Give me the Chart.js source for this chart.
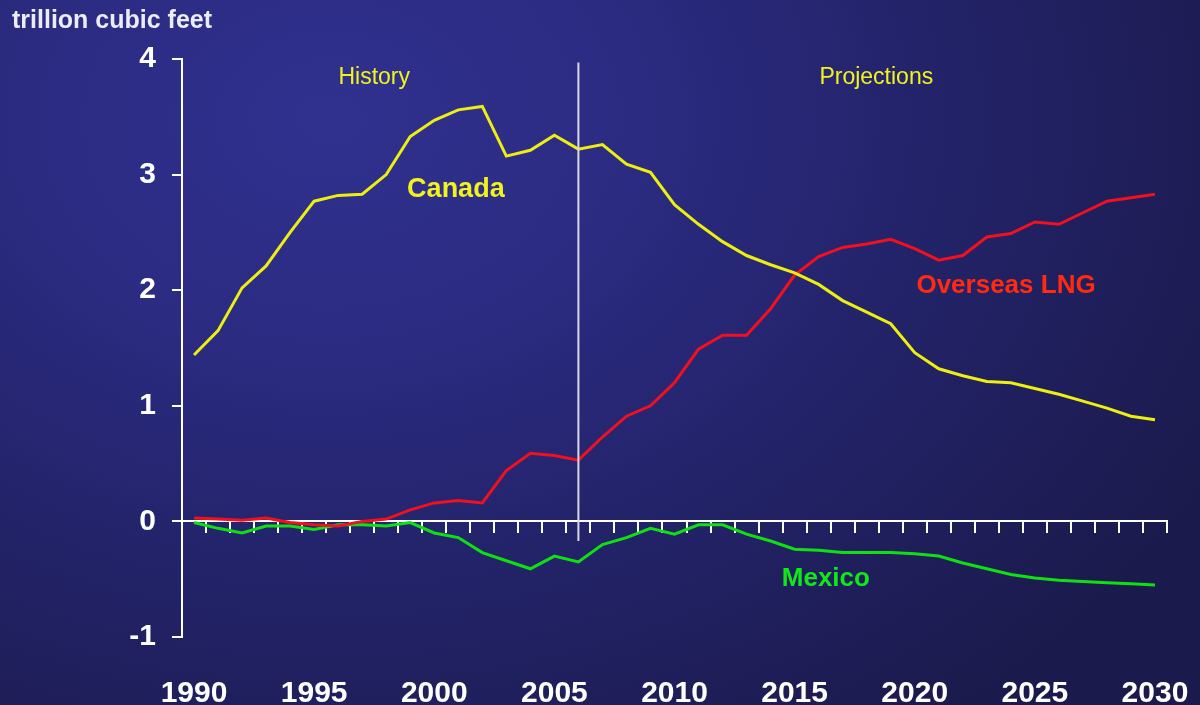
<!DOCTYPE html>
<html>
<head>
<meta charset="utf-8">
<script src="https://cdn.jsdelivr.net/npm/chart.js@4"></script>
<style>
  html, body { margin: 0; padding: 0; }
  body {
    width: 1200px; height: 705px; overflow: hidden;
    background: radial-gradient(ellipse 1000px 760px at 330px 120px, #30318f 0%, #2b2b82 30%, #23236a 60%, #1b1a4c 100%);
  }
  .wrap { position: relative; width: 1200px; height: 705px; }
</style>
</head>
<body>
<div class="wrap"><canvas id="chart" width="1200" height="705"></canvas></div>
<script>
const years = [];
for (let y = 1990; y <= 2030; y++) years.push(String(y));

const canada = [1.44, 1.65, 2.02, 2.21, 2.50, 2.77, 2.82, 2.83, 3.00, 3.33,
  3.47, 3.56, 3.59, 3.16, 3.21, 3.34, 3.22, 3.26, 3.09, 3.02,
  2.74, 2.57, 2.42, 2.30, 2.22, 2.15, 2.05, 1.91, 1.81, 1.71,
  1.46, 1.32, 1.26, 1.21, 1.20, 1.15, 1.10, 1.04, 0.98, 0.91, 0.88];

const lng = [0.03, 0.02, 0.01, 0.03, -0.01, -0.03, -0.04, 0.00, 0.02, 0.10,
  0.16, 0.18, 0.16, 0.44, 0.59, 0.57, 0.53, 0.73, 0.91, 1.00,
  1.20, 1.49, 1.61, 1.61, 1.84, 2.13, 2.29, 2.37, 2.40, 2.44,
  2.36, 2.26, 2.30, 2.46, 2.49, 2.59, 2.57, 2.67, 2.77, 2.80, 2.83];

const mexico = [-0.01, -0.06, -0.10, -0.04, -0.04, -0.07, -0.03, -0.03, -0.04, -0.01,
  -0.10, -0.14, -0.27, -0.34, -0.41, -0.30, -0.35, -0.20, -0.14, -0.06,
  -0.11, -0.03, -0.03, -0.11, -0.17, -0.24, -0.25, -0.27, -0.27, -0.27,
  -0.28, -0.30, -0.36, -0.41, -0.46, -0.49, -0.51, -0.52, -0.53, -0.54, -0.55];

// history / projections divider
const dividerYear = "2006";
const dividerRange = [3.97, -0.17];

// text labels placed at (year index, value)
const notes = [
  { text: "History", at: [7.5, 3.84], color: "#f2f21e", font: "23px 'Liberation Sans', Arial" },
  { text: "Projections", at: [28.4, 3.84], color: "#f2f21e", font: "23px 'Liberation Sans', Arial" },
  { text: "Canada", at: [10.9, 2.87], color: "#f2f21e", font: "bold 27px 'Liberation Sans', Arial" },
  { text: "Overseas LNG", at: [33.8, 2.04], color: "#ff2a10", font: "bold 26px 'Liberation Sans', Arial" },
  { text: "Mexico", at: [26.3, -0.5], color: "#10e818", font: "bold 26px 'Liberation Sans', Arial" }
];

const notesPlugin = {
  id: "notes",
  afterDatasetsDraw(chart) {
    const ctx = chart.ctx;
    const x = chart.scales.x, y = chart.scales.y;
    ctx.save();
    ctx.textAlign = "center";
    ctx.textBaseline = "middle";
    notes.forEach((n) => {
      ctx.font = n.font;
      ctx.fillStyle = n.color;
      ctx.fillText(n.text, x.getPixelForValue(n.at[0]), y.getPixelForValue(n.at[1]));
    });
    ctx.font = "bold 25px 'Liberation Sans', Arial";
    ctx.fillStyle = "#ececf4";
    ctx.textAlign = "left";
    ctx.textBaseline = "alphabetic";
    ctx.fillText("trillion cubic feet", 12, 28);
    ctx.restore();
  }
};

new Chart(document.getElementById("chart"), {
  type: "line",
  data: {
    labels: years,
    datasets: [
      {
        label: "divider",
        data: [{ x: dividerYear, y: dividerRange[0] }, { x: dividerYear, y: dividerRange[1] }],
        borderColor: "#d8d8e6",
        borderWidth: 2,
        pointRadius: 0
      },
      { label: "Canada", data: canada, borderColor: "#eeee10", borderWidth: 3, pointRadius: 0, tension: 0 },
      { label: "Overseas LNG", data: lng, borderColor: "#f0101e", borderWidth: 3, pointRadius: 0, tension: 0 },
      { label: "Mexico", data: mexico, borderColor: "#10e010", borderWidth: 3, pointRadius: 0, tension: 0 }
    ]
  },
  options: {
    responsive: false,
    animation: false,
    devicePixelRatio: 1,
    layout: { padding: { top: 59, right: 33, left: 0, bottom: 0 } },
    plugins: { legend: { display: false }, tooltip: { enabled: false } },
    scales: {
      x: {
        type: "category",
        offset: true,
        position: "bottom",
        grid: { display: false },
        border: { display: false },
        ticks: {
          autoSkip: false,
          maxRotation: 0,
          color: "#ffffff",
          font: { family: "'Liberation Sans', Arial", size: 30, weight: "bold" },
          padding: 31,
          callback: function (v, i) { return i % 5 === 0 ? years[i] : ""; }
        },
        afterFit: (s) => { s.height = 68; s.paddingLeft = 0; s.paddingRight = 0; }
      },
      x0: {
        type: "category",
        offset: true,
        position: { y: 0 },
        grid: { offset: true, drawOnChartArea: false, drawTicks: true, tickLength: 11, color: "#ffffff", lineWidth: 2 },
        border: { display: true, color: "#ffffff", width: 2 },
        ticks: { display: false, autoSkip: false },
        afterFit: (s) => { s.paddingLeft = 0; s.paddingRight = 0; }
      },
      y: {
        min: -1,
        max: 4,
        position: "left",
        grid: { drawOnChartArea: false, drawTicks: true, tickLength: 10, color: "#ffffff", lineWidth: 2 },
        border: { display: true, color: "#ffffff", width: 2 },
        ticks: {
          stepSize: 1,
          color: "#ffffff",
          padding: 16,
          font: { family: "'Liberation Sans', Arial", size: 30, weight: "bold" }
        },
        afterFit: (s) => { s.width = 182; s.paddingTop = 0; s.paddingBottom = 0; }
      }
    }
  },
  plugins: [notesPlugin]
});
</script>
</body>
</html>
